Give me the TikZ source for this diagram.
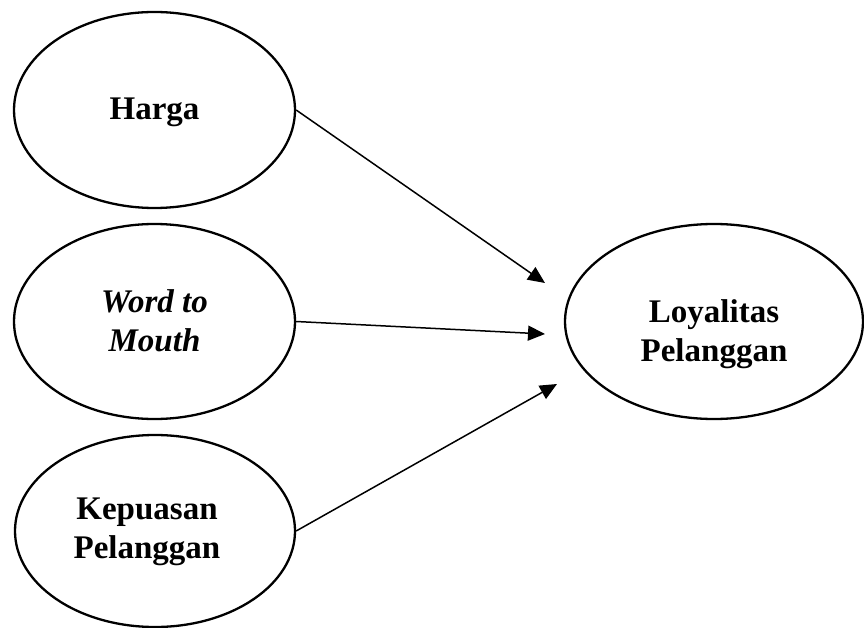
\documentclass[tikz,border=0pt]{standalone}
\usepackage{fontspec}
\setmainfont{Liberation Serif}
\usetikzlibrary{shapes.geometric,arrows.meta}
\begin{document}
\begin{tikzpicture}[x=1pt,y=-1pt,
  var/.style={ellipse,draw,line width=2.3pt,inner sep=0pt},
  lbl/.style={align=center,inner sep=0pt,font=\fontsize{33}{39}\selectfont\bfseries},
  link/.style={line width=1.5pt,-{Triangle[length=17pt,width=15pt]}}]
\useasboundingbox (0,0) rectangle (864,628);
\node[var,minimum width=281pt,minimum height=196pt] (harga) at (154.5,110) {};
\node[lbl] (hargat) at (154.5,112) {Harga};
\node[var,minimum width=281pt,minimum height=195pt] (wtm) at (154.5,321.5) {};
\node[lbl,font=\fontsize{33}{39}\selectfont\bfseries\itshape] (wtmt) at (154.5,321) {Word to\\Mouth};
\node[var,minimum width=280pt,minimum height=192pt] (kep) at (155,531) {};
\node[lbl] (kept) at (147,532) {Kepuasan\\Pelanggan};
\node[var,minimum width=298pt,minimum height=195pt] (loy) at (714,321.5) {};
\node[lbl] (loyt) at (714,334) {Loyalitas\\Pelanggan};
\coordinate (t1) at (545,283);
\coordinate (t2) at (545,334);
\coordinate (t3) at (557,384);
\draw[link] (harga.east) -- (t1);
\draw[link] (wtm.east) -- (t2);
\draw[link] (kep.east) -- (t3);
\end{tikzpicture}
\end{document}
